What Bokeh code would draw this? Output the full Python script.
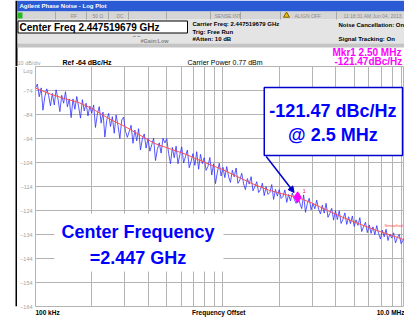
from bokeh.plotting import figure
from bokeh.layouts import column, row
from bokeh.models import Range1d, FixedTicker, Arrow, NormalHead
from bokeh.core.properties import value
from bokeh.embed import file_html
from bokeh.resources import INLINE

# ---------------- data ----------------
freq_khz = [100, 102.3, 104.7, 107.2, 109.6, 112.2, 114.8, 117.5, 120.2, 123.0,
            125.9, 128.8, 131.8, 134.9, 138.0, 141.3, 144.5, 147.9, 151.4, 154.9,
            158.5, 162.2, 166.0, 169.8, 173.8, 177.8, 182.0, 186.2, 190.5, 195.0,
            199.5, 204.2, 208.9, 213.8, 218.8, 223.9, 229.1, 234.4, 239.9, 245.5,
            251.2, 257.0, 263.0, 269.2, 275.4, 281.8, 288.4, 295.1, 302.0, 309.0,
            316.2, 323.6, 331.1, 338.8, 346.7, 354.8, 363.1, 371.5, 380.2, 389.0,
            398.1, 407.4, 416.9, 426.6, 436.5, 446.7, 457.1, 467.7, 478.6, 489.8,
            501.2, 512.9, 524.8, 537.0, 549.5, 562.3, 575.4, 588.8, 602.6, 616.6,
            631.0, 645.7, 660.7, 676.1, 691.8, 707.9, 724.4, 741.3, 758.6, 776.2,
            794.3, 812.8, 831.8, 851.1, 871.0, 891.3, 912.0, 933.3, 955.0, 977.2,
            1000, 1023, 1047, 1072, 1096, 1122, 1148, 1175, 1202, 1230,
            1259, 1288, 1318, 1349, 1380, 1413, 1445, 1479, 1514, 1549,
            1585, 1622, 1660, 1698, 1738, 1778, 1820, 1862, 1905, 1950,
            1995, 2042, 2089, 2138, 2188, 2239, 2291, 2344, 2399, 2455,
            2512, 2570, 2630, 2692, 2754, 2818, 2884, 2951, 3020, 3090,
            3162, 3236, 3311, 3388, 3467, 3548, 3631, 3715, 3802, 3890,
            3981, 4074, 4169, 4266, 4365, 4467, 4571, 4677, 4786, 4898,
            5012, 5129, 5248, 5370, 5495, 5623, 5754, 5888, 6026, 6166,
            6310, 6457, 6607, 6761, 6918, 7079, 7244, 7413, 7586, 7762,
            7943, 8128, 8318, 8511, 8710, 8913, 9120, 9333, 9550, 9772,
            10000]
noise_dbc = [-73, -71.3, -76.6, -72.9, -82.2, -76.5, -73.3, -76.1, -80.4, -75.2,
             -80, -73.7, -77.5, -82.8, -76, -79.3, -74.5, -80.8, -77.5, -85.3,
             -77.5, -81.8, -76.5, -80.8, -85.5, -77.8, -82.5, -79.3, -84.6, -80.5,
             -83.5, -80, -89.4, -83.8, -80.7, -87.6, -83, -93.4, -86.4, -83.5,
             -89, -84.9, -91.8, -84.2, -88.6, -94, -86.3, -85.1, -91, -93.5,
             -91, -88.5, -96, -90.5, -95, -89.9, -98.8, -94.2, -92.1, -98,
             -94, -99.3, -96.6, -93.9, -103.2, -98.5, -95.8, -100.1, -93.9, -95.8,
             -94, -100.2, -104.5, -97.7, -102, -97.2, -104.5, -100.7, -97.5, -104.2,
             -101.5, -98.8, -106.2, -103.5, -100.3, -105.2, -99.5, -106.8, -100.6, -104.5,
             -102, -107.3, -105.6, -101.9, -109.2, -104.5, -112.8, -108.1, -104.3, -109.6,
             -106, -110.3, -105.7, -110, -112.3, -107.2, -110, -106.3, -112.7, -111.3,
             -108.5, -112.9, -115.3, -110.7, -113, -109.9, -115.8, -114.1, -112, -116.5,
             -115.3, -112.6, -117.8, -114, -117.3, -116.5, -113.2, -119.4, -115.2, -118,
             -115.3, -119, -118.2, -115.4, -120.6, -117.3, -120, -116.7, -119.3, -121,
             -118.6, -120.9, -123.2, -117.5, -124.8, -121.1, -118.9, -123.7, -121, -123.3,
             -119.7, -123.5, -125.4, -121.8, -125.1, -121, -126.8, -125.2, -123.1, -128,
             -124, -127.8, -124.1, -129.4, -127.7, -125, -129.8, -126.6, -129.5, -126.3,
             -130.6, -127.9, -130.2, -127, -132.8, -130.6, -128.9, -133.2, -130, -133.5,
             -130.8, -134.1, -130.3, -133.6, -135.9, -132.2, -135, -131.8, -136.5, -133.8,
             -135.5, -133.3, -137.5, -135.3, -134, -137.8, -136.5, -135.3, -139, -137.3,
             -137.5]
smooth_khz = [100, 120, 145, 170, 200, 250, 300, 350, 430, 530, 630, 800, 1000,
              1200, 1450, 1750, 2050, 2500, 3000, 3500, 4400, 5500, 6600, 8000,
              9500, 10000]
smooth_dbc = [-73, -75.5, -77.5, -79, -81.5, -86, -89, -92, -96, -98.5, -100.5,
              -104, -107, -110, -113, -115.5, -117, -118.5, -121, -123.5, -127,
              -130, -132.3, -134.5, -136.5, -137]
marker_khz = [2500]
marker_dbc = [-118.5]
grid_khz = [100, 200, 300, 400, 500, 600, 700, 800, 900,
            1000, 2000, 3000, 4000, 5000, 6000, 7000, 8000, 9000, 10000]
y_grid = [-164, -154, -144, -134, -124, -114, -104, -94, -84, -74, -64]
y_ticks = [-164, -154, -144, -134, -124, -114, -104, -94, -84, -74]
x_label_khz = [116, 950, 8000]
x_labels = ["100 kHz", "Frequency Offset", "10.0 MHz"]

# ---------------- layout constants (pixels) ----------------
W, H = 404, 324
HEAD_H = 66
FOOT_H = 6
STRIP_W = 17
LEFT_PAD = 16
FRAME_W = W - STRIP_W - LEFT_PAD
FRAME_H = 240
BOTTOM_PAD = 12
MAIN_H = FRAME_H + BOTTOM_PAD
DECADE_PX = 188.5
FRAME_X0 = STRIP_W + LEFT_PAD
DB_PER_PX = 100.0 / FRAME_H

SANS = value("Liberation Sans")


def fx(px):
    return 100 * 10 ** ((px - FRAME_X0) / DECADE_PX)


def fy(py):
    return -64 - (py - HEAD_H) * DB_PER_PX


def pixel_fig(w, h):
    f = figure(width=w, height=h, x_range=Range1d(0, w), y_range=Range1d(h, 0),
               output_backend="svg", toolbar_location=None, min_border=0,
               x_axis_location=None, y_axis_location=None)
    f.grid.visible = False
    f.outline_line_color = None
    f.background_fill_color = "white"
    f.border_fill_color = "white"
    return f


def txt(f, x, y, s, size, color="black", bold=False, align="left", font=SANS, **kw):
    f.text(x=[x], y=[y], text=[s], text_font=font, text_font_size=f"{size}px",
           text_color=color, text_font_style="bold" if bold else "normal",
           text_align=align, text_baseline="middle", **kw)


# ---------------- header ----------------
hd = pixel_fig(W, HEAD_H)
hd.quad(left=[15], right=[17], top=[0], bottom=[HEAD_H], fill_color="black", line_color=None)
hd.quad(left=[17], right=[W], top=[0], bottom=[11], fill_color="#2a5bd4", line_color=None)
hd.quad(left=[17], right=[W], top=[11], bottom=[19], fill_color="#d6d6d6", line_color=None)
hd.quad(left=[17], right=[W], top=[19], bottom=[43], fill_color="#e4e4e4", line_color=None)
hd.quad(left=[17], right=[W], top=[43], bottom=[47], fill_color="#c4c4c4", line_color=None)
hd.quad(left=[17], right=[22], top=[12], bottom=[18], fill_color="#22bb22", line_color=None)
for xd in [55, 86, 108, 128, 166, 210, 240, 280, 336]:
    hd.segment(x0=[xd], y0=[11], x1=[xd], y1=[19], line_color="#a8a8a8", line_width=1)
hd.scatter(x=[286], y=[15], marker="triangle", size=6, fill_color="#e8c000", line_color="#806000")
hd.quad(left=[17.5], right=[187], top=[20.5], bottom=[32.5], fill_color="white",
        line_color="black", line_width=1)

txt(hd, 19, 5.5, "Agilent Phase Noise - Log Plot", 6, "white", True)
for s, xx in [("RF", 70), ("50 Ω", 92), ("DC", 116), ("SENSE:INT", 214),
              ("ALIGN OFF", 294), ("11:18:31 AM Jun 04, 2013", 343)]:
    txt(hd, xx, 15, s, 5, "#8c8c8c")
txt(hd, 19, 26.5, "Center Freq 2.447519679 GHz", 10, "black", True)
txt(hd, 192, 23.5, "Carrier Freq: 2.447519679 GHz", 6, "black", True)
txt(hd, 192, 31, "Trig: Free Run", 6, "black", True)
txt(hd, 192, 38.5, "#Atten: 10 dB", 6, "black", True)
txt(hd, 131, 34.5, "→←", 5, "black")
txt(hd, 140, 40, "#Gain:Low", 5.5, "#808080", True)
txt(hd, 338, 24, "Noise Cancellation: On", 6, "black", True)
txt(hd, 338, 38.5, "Signal Tracking: On", 6, "black", True)
txt(hd, 332, 51.5, "Mkr1 2.50 MHz", 10, "#ff00ff", True)
txt(hd, 334, 60.5, "-121.47dBc/Hz", 10, "#ff00ff", True)
txt(hd, 17, 62, "10 dB/div", 5.5, "#a0a0a0")
txt(hd, 62, 62, "Ref  -64 dBc/Hz", 7, "black", True)
txt(hd, 187, 62, "Carrier Power 0.77 dBm", 7, "black", False)

# ---------------- left strip ----------------
st = pixel_fig(STRIP_W, MAIN_H)
st.quad(left=[15], right=[17], top=[0], bottom=[MAIN_H], fill_color="black", line_color=None)

# ---------------- main plot ----------------
main = figure(width=W - STRIP_W, height=MAIN_H, x_axis_type="log",
              x_range=Range1d(100, 100 * 10 ** (FRAME_W / DECADE_PX)),
              y_range=Range1d(-164, -64), output_backend="svg", toolbar_location=None,
              min_border_left=LEFT_PAD, min_border_right=0, min_border_top=0,
              min_border_bottom=BOTTOM_PAD)
main.background_fill_color = "white"
main.border_fill_color = "white"
main.outline_line_color = "#b4b4b4"
main.xgrid.ticker = FixedTicker(ticks=grid_khz)
main.ygrid.ticker = FixedTicker(ticks=y_grid)
main.grid.grid_line_color = "#b4b4b4"
main.grid.grid_line_alpha = 1.0

xa = main.xaxis[0]
xa.ticker = FixedTicker(ticks=x_label_khz)
xa.major_label_overrides = dict(zip(x_label_khz, x_labels))
xa.axis_line_color = None
xa.major_tick_line_color = None
xa.minor_tick_line_color = None
xa.major_tick_out = 0
xa.major_tick_in = 0
xa.minor_tick_out = 0
xa.minor_tick_in = 0
xa.major_label_text_font = "Liberation Sans"
xa.major_label_text_font_size = "6.5px"
xa.major_label_text_font_style = "bold"
xa.major_label_text_color = "black"
xa.major_label_standoff = 2

ya = main.yaxis[0]
ya.ticker = FixedTicker(ticks=y_ticks + [-66])
ya.major_label_overrides = {-66: "Log"}
ya.axis_line_color = None
ya.major_tick_line_color = None
ya.minor_tick_line_color = None
ya.major_tick_out = 0
ya.major_tick_in = 0
ya.minor_tick_out = 0
ya.minor_tick_in = 0
ya.major_label_text_font = "Liberation Sans"
ya.major_label_text_font_size = "5.5px"
ya.major_label_text_color = "#a0a0a0"
ya.major_label_standoff = 3

main.line(freq_khz, noise_dbc, line_color="#3030ff", line_width=1, line_alpha=0.8)
main.line(smooth_khz, smooth_dbc, line_color="#ff5050", line_width=1)

# center frequency annotation
main.quad(left=[fx(52)], right=[fx(222)], top=[fy(213)], bottom=[fy(271)],
          fill_color="white", line_color=None)
txt(main, fx(136), fy(231), "Center Frequency", 18, "#0000ff", True, "center")
txt(main, fx(136), fy(257), "=2.447 GHz", 18, "#0000ff", True, "center")

# callout
main.quad(left=[fx(263)], right=[fx(402)], top=[fy(87)], bottom=[fy(155)],
          fill_color="white", line_color="#0000cc", line_width=1.5)
txt(main, fx(332), fy(110), "-121.47 dBc/Hz", 18, "#0000ff", True, "center")
txt(main, fx(332), fy(134), "@ 2.5 MHz", 18, "#0000ff", True, "center")
main.add_layout(Arrow(x_start=fx(265), y_start=fy(156), x_end=fx(293), y_end=fy(192),
                      line_color="#0000cc", line_width=1.5,
                      end=NormalHead(size=6, fill_color="#0000cc", line_color="#0000cc")))

# marker
main.scatter(marker_khz, marker_dbc, marker="diamond", size=11,
             fill_color="#ff00ff", line_color="#ff00ff")
main.text(x=marker_khz, y=marker_dbc, text=["1"], text_font=SANS, text_font_size="6px",
          text_color="#ff2060", x_offset=5, y_offset=-6, text_baseline="middle")
txt(main, fx(384), fy(225), "Smoothed", 4, "#ff4040")

# ---------------- footer ----------------
ft = pixel_fig(W, FOOT_H)
ft.quad(left=[15], right=[W], top=[0], bottom=[2], fill_color="black", line_color=None)

layout = column(hd, row(st, main), ft)
open("out.html", "w").write(file_html(layout, INLINE))
